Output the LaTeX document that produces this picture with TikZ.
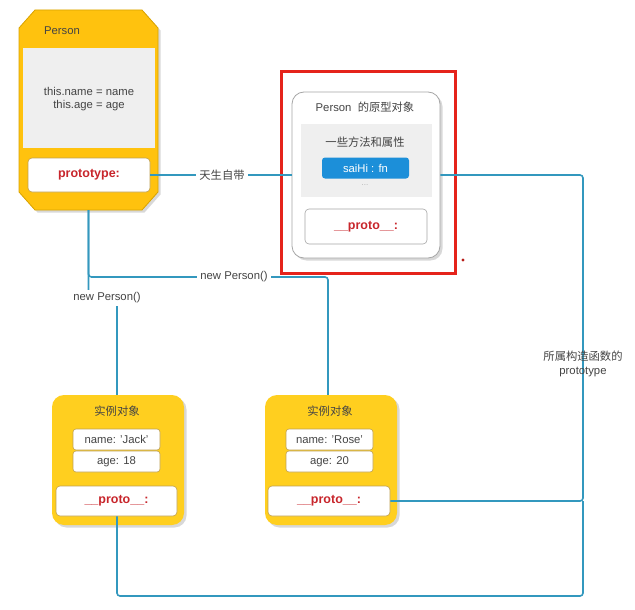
\documentclass[tikz,border=0pt]{standalone}
\usepackage{fontspec}
\setmainfont{Liberation Sans}
\newfontfamily\cjk{Noto Sans CJK SC}
\usetikzlibrary{shadows}
\definecolor{ylw}{HTML}{FFC20E}
\definecolor{ylw2}{HTML}{FFCF1F}
\definecolor{ydark}{HTML}{D9A300}
\definecolor{gold}{HTML}{BFA050}
\definecolor{graybg}{HTML}{EFEFEF}
\definecolor{txt}{HTML}{444444}
\definecolor{redtxt}{HTML}{C8262C}
\definecolor{redframe}{HTML}{E5231B}
\definecolor{lineblue}{HTML}{3398BE}
\definecolor{btnblue}{HTML}{1C8FD9}
\begin{document}
\begin{tikzpicture}[x=1pt,y=-1pt,
  every node/.style={font=\fontsize{11.3}{13.8}\selectfont, text=txt, inner sep=0pt},
  conn/.style={draw=lineblue, line width=1.6pt, rounded corners=3pt},
  lbl/.style={fill=white, inner sep=3pt},
  shad/.style={drop shadow={opacity=0.3, shadow xshift=2.5pt, shadow yshift=-2.5pt}},
  ybox/.style={rectangle, rounded corners=12pt, fill=ylw2, shad},
  wbox/.style={rectangle, rounded corners=3pt, fill=white, draw=gold, line width=0.6pt},
  protolbl/.style={font=\fontsize{12.5}{15}\selectfont\bfseries, text=redtxt}
]
\useasboundingbox (0,0) rectangle (635,610);
\fill[white] (0,0) rectangle (635,610);

% ---------- Person constructor ----------
\node[minimum width=139pt, minimum height=200pt] (person) at (88.5,110) {};
\path[fill=ylw, draw=ydark, line width=0.8pt, shad]
  (35,10) -- (142,10) -- (158,28) -- (158,192) -- (142,210) -- (35,210) -- (19,192) -- (19,28) -- cycle;
\node (ptitle) at (62,31) {Person};
\node[rectangle, fill=graybg, minimum width=132pt, minimum height=100pt] (pbody) at (89,98) {};
\node[align=center] (pcode) at (89,99) {this.name = name\\this.age = age};
\node[wbox, rounded corners=4pt, minimum width=122pt, minimum height=34pt] (pproto) at (89,175) {};
\node[protolbl] at (pproto) {prototype:};

% ---------- prototype object ----------
\node[rectangle, rounded corners=12pt, fill=white, draw=gray!70, line width=0.8pt, shad,
      minimum width=148pt, minimum height=166pt] (pobj) at (366,175) {};
\node (otitle) at (365,107) {Person\ \ {\cjk 的原型对象}};
\node[rectangle, fill=graybg, minimum width=131pt, minimum height=73pt] (obody) at (366.5,160.5) {};
\node (omethods) at (365,142) {\cjk 一些方法和属性};
\node[rectangle, rounded corners=3pt, fill=btnblue, minimum width=87pt, minimum height=21pt,
      text=white] (saihi) at (365.5,168) {saiHi : fn};
\node[text=gray!60, font=\fontsize{8}{9}\selectfont] (odots) at (365,185) {...};
\node[rectangle, rounded corners=4pt, fill=white, draw=gray!70, line width=0.6pt,
      minimum width=122pt, minimum height=35pt] (oproto) at (366,226.5) {};
\node[protolbl] at (oproto) {\_\_proto\_\_:};

% red highlight frame
\draw[redframe, line width=3pt] (281,72) rectangle (455,273);
\fill[redframe!80!black] (463,260) circle (1.6pt);

% ---------- instance Jack ----------
\node[ybox, minimum width=132pt, minimum height=130pt] (jack) at (118,460) {};
\node (jtitle) at (117,411) {\cjk 实例对象};
\node[wbox, minimum width=87pt, minimum height=21pt] (jname) at (116.5,439.5) {name: 'Jack'};
\node[wbox, minimum width=87pt, minimum height=21pt] (jage) at (116.5,461.5) {age: 18};
\node[wbox, rounded corners=4pt, minimum width=121pt, minimum height=30pt] (jproto) at (116.5,501) {};
\node[protolbl] at (jproto) {\_\_proto\_\_:};

% ---------- instance Rose ----------
\node[ybox, minimum width=132pt, minimum height=130pt] (rose) at (331,460) {};
\node (rtitle) at (330,411) {\cjk 实例对象};
\node[wbox, minimum width=87pt, minimum height=21pt] (rname) at (329.5,439.5) {name: 'Rose'};
\node[wbox, minimum width=87pt, minimum height=21pt] (rage) at (329.5,461.5) {age: 20};
\node[wbox, rounded corners=4pt, minimum width=122pt, minimum height=30pt] (rproto) at (329,501) {};
\node[protolbl] at (rproto) {\_\_proto\_\_:};

% ---------- connectors ----------
\coordinate (cA) at (88.5,298);
\coordinate (cB) at (117,298);
\coordinate (cC) at (88.5,277);
\coordinate (cD) at (328,277);
\coordinate (rtop) at (583,175);
\coordinate (rmid) at (583,501);
\coordinate (rbot) at (583,596);
\coordinate (lbot) at (117,596);

% prototype -> prototype object
\draw[conn] (pproto.east) -- (pobj.west);
\node[lbl] (l1) at (222,175) {\cjk 天生自带};

% new Person() -> Rose
\draw[conn] (person.south) -- (cC) -- (cD) -- (rose.north -| cD);
\node[lbl] (l2) at (234,277) {new Person()};

% new Person() -> Jack
\draw[conn] (person.south) -- (cA) -- (cB) -- (jack.north -| cB);
\node[lbl] (l3) at (107,298) {new Person()};

% __proto__ links to prototype object
\draw[conn] (pobj.east) -- (rtop) -- (rmid) -- (rproto.east);
\draw[conn] (jproto.south -| lbot) -- (lbot) -- (rbot) -- (rmid);
\node[align=center] (l4) at (583,364) {{\cjk 所属构造函数的}\\prototype};
\end{tikzpicture}
\end{document}
